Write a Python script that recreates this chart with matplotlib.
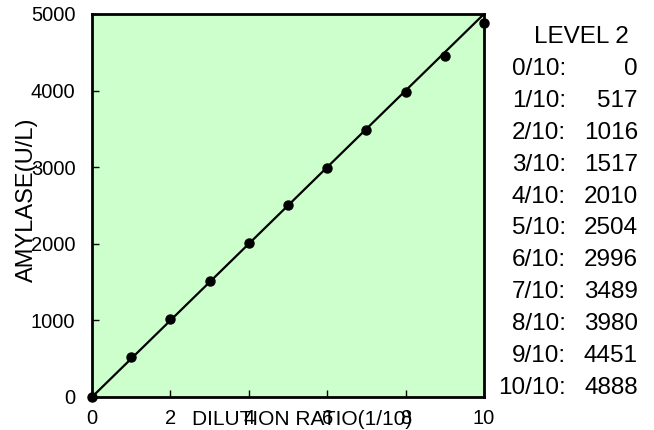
import matplotlib
matplotlib.use("Agg")
import matplotlib.pyplot as plt

# dilution 0/10 .. 10/10, measured amylase (U/L)
ratio = [0, 1, 2, 3, 4, 5, 6, 7, 8, 9, 10]
amylase = [0, 517, 1016, 1517, 2010, 2504, 2996, 3489, 3980, 4451, 4888]
ideal_x = [0, 10]
ideal_y = [0, 5000]
x_ticks = [0, 2, 4, 6, 8, 10]
y_ticks = [0, 1000, 2000, 3000, 4000, 5000]
level = "LEVEL 2"

plt.rcParams["font.family"] = ["Liberation Sans", "DejaVu Sans"]

fig = plt.figure(figsize=(6.54, 4.30), dpi=100)
ax = fig.add_axes([92 / 654, 33 / 430, 392 / 654, 383 / 430])
ax.set_facecolor("#ccffcc")

ax.plot(ideal_x, ideal_y, color="black", lw=1.6, zorder=2)
ax.plot(ratio, amylase, "o", color="black", ms=6.5, zorder=3, clip_on=False)

ax.set_xlim(0, 10)
ax.set_ylim(0, 5000)
ax.set_xticks(x_ticks)
ax.set_yticks(y_ticks)
ax.tick_params(direction="in", length=5, width=1, labelsize=14.5)
ax.tick_params(axis="x", pad=9)
ax.tick_params(axis="y", pad=12)
for s in ax.spines.values():
    s.set_linewidth(2)

ax.set_xlabel("DILUTION RATIO(1/10)", fontsize=15)
ax.xaxis.set_label_coords(0.537, -0.034)
ax.xaxis.label.set_va("top")
ax.set_ylabel("AMYLASE(U/L)", fontsize=17)
ax.yaxis.set_label_coords(-0.137, 0.514)

# value listing on the right
fig.text(581 / 654, 1 - 37 / 430, level, fontsize=17.5, ha="center", va="center")
for i, (r, v) in enumerate(zip(ratio, amylase)):
    y = 1 - (69 + i * 31.9) / 430
    fig.text(566 / 654, y, f"{r}/10:", fontsize=17.5, ha="right", va="center")
    fig.text(638 / 654, y, f"{v}", fontsize=17.5, ha="right", va="center")

fig.savefig("out.png", dpi=100)
